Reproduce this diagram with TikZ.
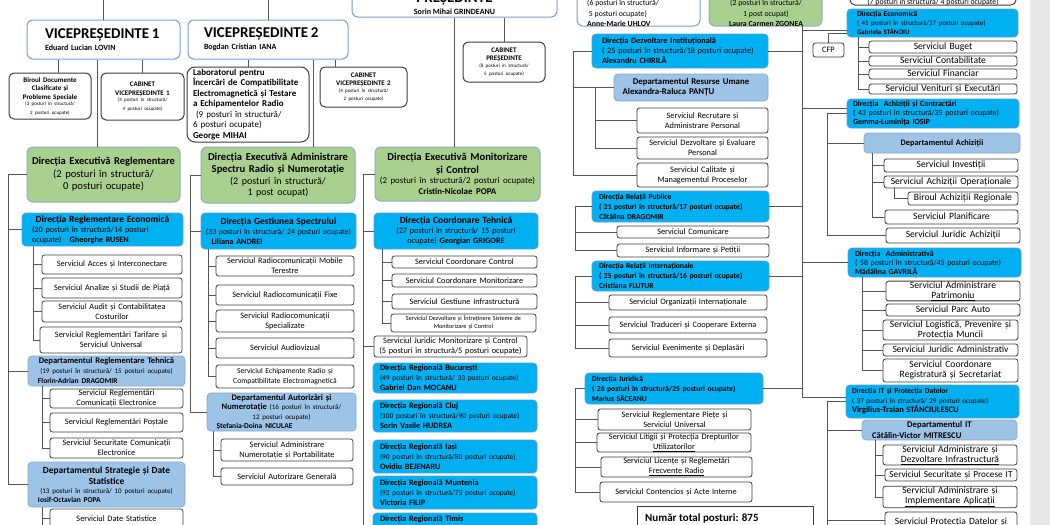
\documentclass[tikz,border=0pt]{standalone}
\usepackage{fontspec}
\setmainfont{Carlito}
\definecolor{vpline}{RGB}{120,160,205}
\definecolor{greenfill}{RGB}{169,208,142}
\definecolor{greenline}{RGB}{140,172,190}
\definecolor{dirblue}{RGB}{0,176,240}
\definecolor{dirline}{RGB}{90,160,215}
\definecolor{deptblue}{RGB}{157,195,230}
\definecolor{deptline}{RGB}{130,170,210}
\definecolor{servline}{RGB}{60,60,60}
\definecolor{linegray}{RGB}{85,85,85}
\definecolor{stripgray}{RGB}{232,232,232}
\newcommand\fsA{\fontsize{5}{6.5}\selectfont}
\newcommand\fsB{\fontsize{7}{9}\selectfont}

\begin{document}
\begin{tikzpicture}[x=1pt,y=-1pt,
  conn/.style={draw=linegray,line width=0.8pt},
  sz/.style 2 args={minimum width=#1pt,minimum height=#2pt,text width=#1pt-3pt},
  szl/.style 2 args={minimum width=#1pt,minimum height=#2pt,text width=#1pt-20pt},
  serv/.style={draw=servline,line width=0.8pt,fill=white,rounded corners=2.5pt,align=center,inner xsep=1pt,inner ysep=0.5pt,font=\fontsize{8.3}{10}\selectfont},
  servr/.style={serv,font=\fontsize{9.6}{10}\selectfont},
  flat/.style={text height=6.5pt,text depth=2pt},
  cab/.style={draw=servline,line width=1pt,fill=white,rounded corners=5pt,align=center,inner xsep=1pt,inner ysep=0.5pt,font=\fontsize{7}{8.5}\selectfont\bfseries},
  vp/.style={draw=vpline,line width=1pt,fill=white,rounded corners=6pt,align=left,inner xsep=1pt,inner ysep=0.5pt,font=\fontsize{8}{10}\selectfont\bfseries},
  exec/.style={draw=greenline,line width=1pt,fill=greenfill,rounded corners=6pt,align=center,inner xsep=1pt,inner ysep=0.5pt,font=\fontsize{10.6}{12.5}\selectfont},
  dir/.style={draw=dirline,line width=0.8pt,fill=dirblue,rounded corners=4pt,align=left,inner xsep=1pt,inner ysep=0.5pt,font=\fontsize{8.2}{10}\selectfont},
  dept/.style={draw=deptline,line width=0.8pt,fill=deptblue,rounded corners=4pt,align=center,inner xsep=1pt,inner ysep=0.5pt,font=\fontsize{8.5}{10}\selectfont},
  txt/.style={inner sep=0pt,align=left,font=\fontsize{7.8}{10.5}\selectfont}]
\useasboundingbox (0,0) rectangle (1050,525);
\clip (0,0) rectangle (1050,525);
\fill[stripgray] (1030,-10) rectangle (1060,540);

% top level
\node[vp,minimum width=205pt,minimum height=50pt] (pres) at (454.5,-8) {};
\node[inner sep=0pt,align=center] (prestxt) at (454.5,15) [anchor=south] {{\fontsize{15}{15}\selectfont\bfseries PREȘEDINTE}\\{\fontsize{8}{10}\selectfont\bfseries Sorin Mihai GRINDEANU}};
\node[vp,minimum width=123pt,minimum height=60pt] (uhlov) at (638.5,-4) {};
\node[txt,anchor=south west] (uhlovtxt) at (587,27) {(6 posturi în structură/\\\ 5 posturi ocupate)\\\textbf{Anne-Marie UHLOV}};
\node[exec,minimum width=113pt,minimum height=60pt] (zgonea) at (765.5,-4) {};
\node[txt,align=center,anchor=south] (zgoneatxt) at (766,27) {(2 posturi în structură/\\1 post ocupat)\\\textbf{Laura Carmen ZGONEA}};
\node[cab,minimum width=166pt,minimum height=40pt] (topr) at (933,-15) {};
\node[txt,anchor=south] (toprtxt) at (933,6) {(7 posturi în structură/ 4 posturi ocupate)};

\node[vp,sz={153}{39},text width=117pt] (vp1) at (103.5,39.5) {{\fontsize{15}{17}\selectfont VICEPREȘEDINTE 1}\\[2pt]Eduard Lucian LOVIN};
\node[vp,sz={160}{39},text width=128pt] (vp2) at (268,39.5) {{\fontsize{15}{17}\selectfont VICEPREȘEDINTE 2}\\[2pt]Bogdan Cristian IANA};
\node[cab,sz={82}{46}] (birou) at (50,96) {Biroul Documente\\Clasificate și\\Probleme Speciale\\{\fsA\mdseries (3 posturi în structură/\\2 posturi ocupate)}};
\node[cab,sz={83}{47}] (cabvp1) at (142.5,96.5) {CABINET\\VICEPREȘEDINTE 1\\{\fsA\mdseries (4 posturi în structură/\\4 posturi ocupate)}};
\node[cab,sz={122}{75},text width=110pt,align=left,rounded corners=8pt,font=\fontsize{9}{10.5}\selectfont\bfseries] (lab) at (248,104.5) {Laboratorul pentru\\Încercări de Compatibilitate\\Electromagnetică și Testare\\a Echipamentelor Radio\\{\mdseries\ (9 posturi în structură/\\6 posturi ocupate)}\\George MIHAI};
\node[cab,sz={87}{40}] (cabvp2) at (363.5,87) {CABINET\\VICEPREȘEDINTE 2\\{\fsA\mdseries (4 posturi în structură/\\2 posturi ocupate)}};
\node[cab,sz={82}{40}] (cabpres) at (504,62) {CABINET\\PREȘEDINTE\\{\fsA\mdseries (8 posturi în structură/\\5 posturi ocupate)}};

% executive directions
\node[exec,sz={153}{55}] (g1) at (103.5,174.5) {\makebox[\linewidth]{\fontsize{10.5}{12.5}\selectfont\bfseries Direcția Executivă Reglementare}\\(2 posturi în structură/\\0 posturi ocupate)};
\node[exec,sz={154}{56}] (g2) at (278,175) {\makebox[\linewidth]{\bfseries Direcția Executivă Administrare}\\\textbf{Spectru Radio și Numerotație}\par{\fontsize{10}{11.5}\selectfont (2 posturi în structură/\\1 post ocupat)\par}};
\node[exec,sz={165}{54}] (g3) at (457.5,174) {\makebox[\linewidth]{\bfseries Direcția Executivă Monitorizare}\\\textbf{și Control}\par{\fontsize{8.9}{10.5}\selectfont (2 posturi în structură/2 posturi ocupate)\\\textbf{Cristin-Nicolae POPA}\par}};

% column 1
\node[dir,szl={161}{33}] (dre) at (102.5,229.5) {\makebox[\linewidth]{\fontsize{9.5}{11}\selectfont\bfseries Direcția Reglementare Economică}\\(20 posturi în structură/14 posturi\\ocupate)\quad\textbf{Gheorghe RUSEN}};
\node[serv,sz={140}{19}] (a1) at (112,264.5) {Serviciul Acces și Interconectare};
\node[serv,sz={140}{20}] (a2) at (112,288) {Serviciul Analize și Studii de Piață};
\node[serv,sz={140}{21}] (a3) at (112,311.5) {Serviciul Audit și Contabilitatea\\Costurilor};
\node[serv,sz={142}{26}] (a4) at (111,340) {Serviciul Reglementări Tarifare și\\Serviciul Universal};
\node[dept,sz={157}{30}] (drt) at (106.5,371) {\makebox[\linewidth]{\bfseries Departamentul Reglementare Tehnică}\\{\fsB (19 posturi în structură/ 15 posturi ocupate)}\\\makebox[\linewidth][l]{\hspace*{8.5pt}\fontsize{7.5}{9}\selectfont\bfseries Florin-Adrian DRAGOMIR}};
\node[serv,sz={133}{19}] (b1) at (116.5,398.5) {Serviciul Reglementări\\Comunicații Electronice};
\node[serv,sz={133}{19}] (b2) at (116.5,422.5) {Serviciul Reglementări Poștale};
\node[serv,sz={133}{20}] (b3) at (116.5,448) {Serviciul Securitate Comunicații\\Electronice};
\node[dept,sz={157}{45}] (dsds) at (106.5,484.5) {{\fontsize{9.4}{11}\selectfont\bfseries Departamentul Strategie și Date\\Statistice\par}{\fsB (13 posturi în structură/ 10 posturi ocupate)\\\makebox[\linewidth][l]{\hspace*{8.5pt}\fontsize{7.5}{9}\selectfont\bfseries Iosif-Octavian POPA}\par}};
\node[serv,sz={133}{19}] (c1) at (116.5,518.5) {Serviciul Date Statistice};

% column 2
\node[dir,sz={155}{36}] (dgs) at (278.5,231) {\makebox[\linewidth]{\fontsize{9.5}{11}\selectfont\bfseries Direcția Gestiunea Spectrului}\\\makebox[\linewidth]{\fontsize{7.8}{10}\selectfont (33 posturi în structură/ 24 posturi ocupate)}\\\hspace*{9pt}\textbf{Liliana ANDREI}};
\node[serv,sz={138}{20}] (d1) at (285,266) {Serviciul Radiocomunicații Mobile\\Terestre};
\node[serv,sz={138}{20}] (d2) at (285,295) {Serviciul Radiocomunicații Fixe};
\node[serv,sz={138}{22}] (d3) at (285,321) {Serviciul Radiocomunicații\\Specializate};
\node[serv,sz={138}{20}] (d4) at (285,348) {Serviciul Audiovizual};
\node[serv,sz={138}{23},font=\fontsize{7.6}{10}\selectfont] (d5) at (285,376.5) {Serviciul Echipamente Radio și\\Compatibilitate Electromagnetică};
\node[dept,sz={149}{38},font=\fontsize{8.5}{9.5}\selectfont] (dan) at (281.5,412) {\textbf{Departamentul Autorizări și}\\\textbf{Numerotație}\ {\fsB (16 posturi în structură/}\\{\fsB 12 posturi ocupate)}\\\makebox[\linewidth][l]{\hspace*{8pt}\fontsize{7.5}{9}\selectfont\bfseries Ștefania-Doina NICULAE}};
\node[serv,sz={132}{22}] (e1) at (287,450) {Serviciul Administrare\\Numerotație și Portabilitate};
\node[serv,sz={132}{17}] (e2) at (287,476.5) {Serviciul Autorizare Generală};

% column 3
\node[dir,sz={164}{36},align=center] (dct) at (456,231) {{\fontsize{9.5}{11}\selectfont\bfseries Direcția Coordonare Tehnică}\\(27 posturi în structură/ 15 posturi\\ocupate) \textbf{Georgian GRIGORE}};
\node[serv,sz={145}{12}] (f1) at (464.5,262) {Serviciul Coordonare Control};
\node[serv,sz={145}{13}] (f2) at (464.5,280.5) {Serviciul Coordonare Monitorizare};
\node[serv,sz={145}{15}] (f3) at (464.5,301.5) {Serviciul Gestiune Infrastructură};
\node[serv,sz={145}{18},font=\fontsize{6.2}{8}\selectfont] (f4) at (463.5,323) {Serviciul Dezvoltare și Întreținere Sisteme de\\Monitorizare și Control};
\node[serv,sz={153}{21}] (jmc) at (450.5,346.5) {Serviciul Juridic Monitorizare și Control\\(5 posturi în structură/5 posturi ocupate)};
\node[dir,sz={164}{30},text width=150pt] (r1) at (455,378) {\textbf{Direcția Regională București}\\{\fontsize{7.4}{9}\selectfont (49 posturi în structură/ 33 posturi ocupate)}\\\textbf{Gabriel Dan MOCANU}};
\node[dir,sz={164}{32},text width=150pt] (r2) at (455,416) {\textbf{Direcția Regională Cluj}\\{\fontsize{7.4}{9}\selectfont (100 posturi în structură/90 posturi ocupate)}\\\textbf{Sorin Vasile HUDREA}};
\node[dir,sz={164}{33},text width=150pt] (r3) at (455,456.5) {\textbf{Direcția Regională Iași}\\{\fontsize{7.4}{9}\selectfont (90 posturi în structură/80 posturi ocupate)}\\\textbf{Ovidiu BEJENARU}};
\node[dir,sz={164}{33},text width=150pt] (r4) at (455,492.5) {\textbf{Direcția Regională Muntenia}\\{\fontsize{7.4}{9}\selectfont (92 posturi în structură/73 posturi ocupate)}\\\textbf{Victoria FILIP}};
\node[dir,sz={164}{32},text width=150pt] (r5) at (455,529) {\textbf{Direcția Regională Timiș}\\\mbox{}\\\mbox{}};

% right half, left side
\node[dir,szl={176}{34}] (dei) at (680,51) {\textbf{Direcția Dezvoltare Instituțională}\\( 25 posturi în structură/18 posturi ocupate)\\\textbf{Alexandru CHIRILĂ}};
\node[dept,sz={154}{27},font=\fontsize{8.8}{10}\selectfont] (dru) at (691,87.5) {\textbf{Departamentul Resurse Umane}\\\makebox[\linewidth][l]{\hspace*{7pt}\bfseries Alexandra-Raluca PANȚU}};
\node[serv,sz={131}{25}] (h1) at (702.5,120.5) {Serviciul Recrutare și\\Administrare Personal};
\node[serv,sz={131}{22}] (h2) at (702.5,148) {Serviciul Dezvoltare și Evaluare\\Personal};
\node[serv,sz={131}{24}] (h3) at (702.5,175) {Serviciul Calitate și\\Managementul Proceselor};
\node[dir,sz={177}{31},text width=163pt,font=\fontsize{7.6}{10}\selectfont\bfseries] (drp) at (680.5,206.5) {Direcția Relații Publice\\( 21 posturi în structură/17 posturi ocupate)\\Cătălina DRAGOMIR};
\node[serv,sz={152}{12}] (i1) at (693,232) {Serviciul Comunicare};
\node[serv,sz={152}{13}] (i2) at (693,250.5) {Serviciul Informare și Petiții};
\node[dir,sz={177}{30},text width=163pt,font=\fontsize{7.6}{10}\selectfont\bfseries] (dri) at (680.5,276) {Direcția Relații Internaționale\\( 25 posturi în structură/16 posturi ocupate)\\Cristiana FLUTUR};
\node[serv,sz={158}{15}] (j1) at (688,302.5) {Serviciul Organizații Internaționale};
\node[serv,sz={158}{16}] (j2) at (688,325) {Serviciul Traduceri și Cooperare Externa};
\node[serv,sz={158}{18}] (j3) at (688,348) {Serviciul Evenimente și Deplasări};
\node[dir,sz={178}{31},text width=164pt,font=\fontsize{7.6}{10}\selectfont\bfseries] (dj) at (674,388.5) {Direcția Juridică\\( 26 posturi în structură/25 posturi ocupate)\\Marius SĂCEANU};
\node[serv,sz={153}{21}] (k1) at (674.5,419.5) {Serviciul Reglementare Piețe și\\Serviciul Universal};
\node[serv,sz={154}{19}] (k2) at (674,442.5) {Serviciul Litigii și Protecția Drepturilor\\\underline{Utilizatorilor}};
\node[serv,sz={151}{20}] (k3) at (676.5,467) {Serviciul Licențe și Reglemetări\\\underline{Frecvente Radio}};
\node[serv,sz={152}{20}] (k4) at (676,492) {Serviciul Contencios și Acte Interne};
\node[draw=servline,line width=0.8pt,minimum width=176pt,minimum height=40pt,inner sep=0pt] (total) at (725,526) {};
\node[anchor=west,inner sep=0pt,font=\fontsize{11}{13}\selectfont\bfseries] (totaltxt) at (645,518) {Număr total posturi: 875};

% right half, right side
\node[dir,szl={171}{28},font=\fontsize{7.5}{9}\selectfont] (dec) at (932.5,23) {\textbf{Direcția Economică}\\{\fontsize{6.9}{9}\selectfont ( 41 posturi în structură/37 posturi ocupate)}\\{\fontsize{6.9}{9}\selectfont\bfseries Gabriela STĂNOIU}};
\node[serv,sz={31}{14}] (cfp) at (828.5,50) {CFP};
\node[servr,flat,sz={148}{12}] (m1) at (943,47) {Serviciul Buget};
\node[servr,flat,sz={148}{10}] (m2) at (943,61) {Serviciul Contabilitate};
\node[servr,flat,sz={148}{10}] (m3) at (943,74) {Serviciul Financiar};
\node[servr,flat,sz={148}{10}] (m4) at (943,89) {Serviciul Venituri și Executări};
\node[dir,sz={172}{29},text width=160pt,font=\fontsize{7.9}{9}\selectfont] (dac) at (933,113.5) {\textbf{Direcția~ Achiziții și Contractări}\\( 43 posturi în structură/35 posturi ocupate)\\\textbf{Gemma-Luminița IOSIP}};
\node[dept,sz={156}{20},font=\fontsize{8.3}{10}\selectfont] (dach) at (942,143) {\textbf{Departamentul Achiziții}};
\node[servr,flat,sz={134}{13}] (n1) at (951,165.5) {Serviciul Investiții};
\node[servr,flat,sz={134}{12}] (n2) at (951,182) {Serviciul Achiziții Operaționale};
\node[servr,flat,sz={110}{13}] (n3) at (963,198.5) {Biroul Achiziții Regionale};
\node[servr,flat,sz={133}{14}] (n4) at (951.5,217) {Serviciul Planificare};
\node[servr,flat,sz={134}{15}] (n5) at (953,235.5) {Serviciul Juridic Achiziții};
\node[dir,sz={173}{29},text width=159pt,font=\fontsize{7.9}{9}\selectfont] (dadm) at (934.5,262.5) {\textbf{Direcția~ Administrativă}\\( 58 posturi în structură/45 posturi ocupate)\\\textbf{Mădălina GAVRILĂ}};
\node[servr,sz={134}{18}] (o1) at (953,291) {Serviciul Administrare\\\underline{Patrimoniu}};
\node[servr,flat,sz={134}{12}] (o2) at (953,310) {Serviciul Parc Auto};
\node[servr,sz={135}{20}] (o3) at (950.5,330) {Serviciul Logistică, Prevenire și\\Protecția Muncii};
\node[servr,flat,sz={135}{12}] (o4) at (950.5,350) {Serviciul Juridic Administrativ};
\node[servr,sz={135}{23}] (o5) at (950.5,370.5) {Serviciul Coordonare\\Registratură și Secretariat};
\node[dir,sz={173}{33},text width=161pt,font=\fontsize{7.5}{9.5}\selectfont] (dit) at (932.5,401.5) {\textbf{Direcția IT și Protecția Datelor}\\{\fontsize{7.2}{9}\selectfont ( 37 posturi în structură/ 29 posturi ocupate)}\\{\fontsize{8.5}{10}\selectfont\bfseries Virgilius-Traian STĂNCIULESCU}};
\node[dept,sz={155}{20},font=\fontsize{8.7}{10.5}\selectfont] (ditd) at (939.5,430) {\makebox[\linewidth]{\bfseries Departamentul IT}\\\makebox[\linewidth][l]{\hspace*{8.5pt}\bfseries Cătălin-Victor MITRESCU}};
\node[servr,sz={134}{20}] (q1) at (950,455) {Serviciul Administrare și\\\underline{Dezvoltare Infrastructură}};
\node[servr,flat,sz={132}{12},font=\fontsize{9.2}{10}\selectfont] (q2) at (951,475) {Serviciul Securitate și Procese IT};
\node[servr,sz={134}{20}] (q3) at (950,497) {Serviciul Administrare și\\\underline{Implementare Aplicații}};
\node[servr,sz={132}{28}] (q4) at (951,526) {Serviciul Protecția Datelor și\\\mbox{}};

% connectors, top
\coordinate (vptop1) at (103.5,-10);
\coordinate (vptop2) at (268,-10);
\draw[conn] (vptop1) -- (vp1.north);
\draw[conn] (vptop2) -- (vp2.north);
\draw[conn] ([xshift=8pt]birou.north) -- ([xshift=8pt]birou.north |- vp1.south);
\draw[conn] (cabvp1.north) -- (cabvp1.north |- vp1.south);
\draw[conn] ([xshift=-6pt]g1.north) -- ([xshift=-6pt]g1.north |- vp1.south);
\draw[conn] (lab.north) -- (lab.north |- vp2.south);
\draw[conn] ([xshift=35pt]g2.north) -- ([xshift=35pt]g2.north |- vp2.south);
\draw[conn] ([xshift=-28pt]cabvp2.north) -- ([xshift=-28pt]cabvp2.north |- vp2.south);
\draw[conn] ([xshift=-3.5pt]g3.north) -- ([xshift=-3.5pt]g3.north |- pres.south);
\draw[conn] (cabpres.north) -- (cabpres.north |- pres.south);

% column 1
\coordinate (busA) at (8,0);
\draw[conn] (g1.west) -| (busA |- dsds.west) -- (dsds.west);
\draw[conn] (dre.west) -- (dre.west -| busA);
\draw[conn] (drt.west) -- (drt.west -| busA);
\coordinate (busA1) at (33,0);
\draw[conn] (dre.south -| busA1) |- (a4.west);
\foreach \s in {a1,a2,a3} \draw[conn] (\s.west) -- (\s.west -| busA1);
\coordinate (busA2) at (42,0);
\draw[conn] (drt.south -| busA2) |- (b3.west);
\foreach \s in {b1,b2} \draw[conn] (\s.west) -- (\s.west -| busA2);
\coordinate (endA2) at (42,530);
\draw[conn] (dsds.south -| endA2) -- (endA2);
\draw[conn] (c1.west) -- (c1.west -| endA2);

% column 2
\coordinate (busB) at (190,0);
\draw[conn] (g2.west) -| (busB |- dan.west) -- (dan.west);
\draw[conn] (dgs.west) -- (dgs.west -| busB);
\coordinate (busB1) at (208,0);
\draw[conn] (dgs.south -| busB1) |- (d5.west);
\foreach \s in {d1,d2,d3,d4} \draw[conn] (\s.west) -- (\s.west -| busB1);
\coordinate (busB2) at (213,0);
\draw[conn] (dan.south -| busB2) |- (e2.west);
\draw[conn] (e1.west) -- (e1.west -| busB2);

% column 3
\coordinate (endC) at (363,530);
\draw[conn] (g3.west) -| (endC);
\draw[conn] (dct.west) -- (dct.west -| endC);
\draw[conn] (jmc.west) -- (jmc.west -| endC);
\coordinate (busC1) at (382,0);
\draw[conn] (dct.south -| busC1) |- (f4.west);
\foreach \s in {f1,f2,f3} \draw[conn] (\s.west) -- (\s.west -| busC1);

% right trunk
\coordinate (trunktop) at (802,26);
\draw[conn] (trunktop) |- ([yshift=4pt]dit.west);
\draw[conn] ([yshift=-7pt]dec.west) -- ([yshift=-7pt]dec.west -| trunktop);
\draw[conn] (cfp.north) |- ([yshift=-10pt]dec.west);
\draw[conn] ([yshift=5.5pt]dac.west) -- ([yshift=5.5pt]dac.west -| trunktop);
\draw[conn] (dadm.west) -- (dadm.west -| trunktop);
\foreach \s in {dei,drp,dri,dj} \draw[conn] (\s.east) -- (\s.east -| trunktop);

% right half, left side
\coordinate (busD) at (573,0);
\draw[conn] (dei.west) -| (busD |- h3.west) -- (h3.west);
\draw[conn] (dru.west) -- (dru.west -| busD);
\coordinate (busD1) at (595,0);
\draw[conn] (dru.west -| busD1) |- (h2.west);
\draw[conn] (h1.west) -- (h1.west -| busD1);
\coordinate (busE) at (575,0);
\draw[conn] (drp.west) -| (busE |- i2.west) -- (i2.west);
\draw[conn] (i1.west) -- (i1.west -| busE);
\draw[conn] (dri.west) -| (busE |- j3.west) -- (j3.west);
\foreach \s in {j1,j2} \draw[conn] (\s.west) -- (\s.west -| busE);
\draw[conn] (dj.west) -| (busE |- k4.west) -- (k4.west);
\foreach \s in {k1,k2,k3} \draw[conn] (\s.west) -- (\s.west -| busE);

% right half, right side
\coordinate (busF) at (858,0);
\draw[conn] (dec.south -| busF) |- (m4.west);
\foreach \s in {m1,m2,m3} \draw[conn] (\s.west) -- (\s.west -| busF);
\coordinate (busG) at (827,0);
\draw[conn] (dac.west) -| (busG |- n5.west) -- (n5.west);
\draw[conn] (dach.west) -- (dach.west -| busG);
\coordinate (busG1) at (872,0);
\draw[conn] (dach.south -| busG1) |- (n4.west);
\foreach \s in {n1,n2} \draw[conn] (\s.west) -- (\s.west -| busG1);
\draw[conn] ([xshift=11pt]n2.south west) |- (n3.west);
\coordinate (busH) at (862,0);
\draw[conn] (dadm.south -| busH) |- (o5.west);
\foreach \s in {o1,o2,o3,o4} \draw[conn] (\s.west) -- (\s.west -| busH);
\coordinate (endI) at (827,530);
\draw[conn] (dit.west) -| (endI);
\draw[conn] (ditd.west) -- (ditd.west -| endI);
\draw[conn] ([yshift=6pt]q4.west) -- ([yshift=6pt]q4.west -| endI);
\coordinate (busI1) at (875,0);
\draw[conn] (ditd.south -| busI1) |- (q3.west);
\foreach \s in {q1,q2} \draw[conn] (\s.west) -- (\s.west -| busI1);
\end{tikzpicture}
\end{document}
